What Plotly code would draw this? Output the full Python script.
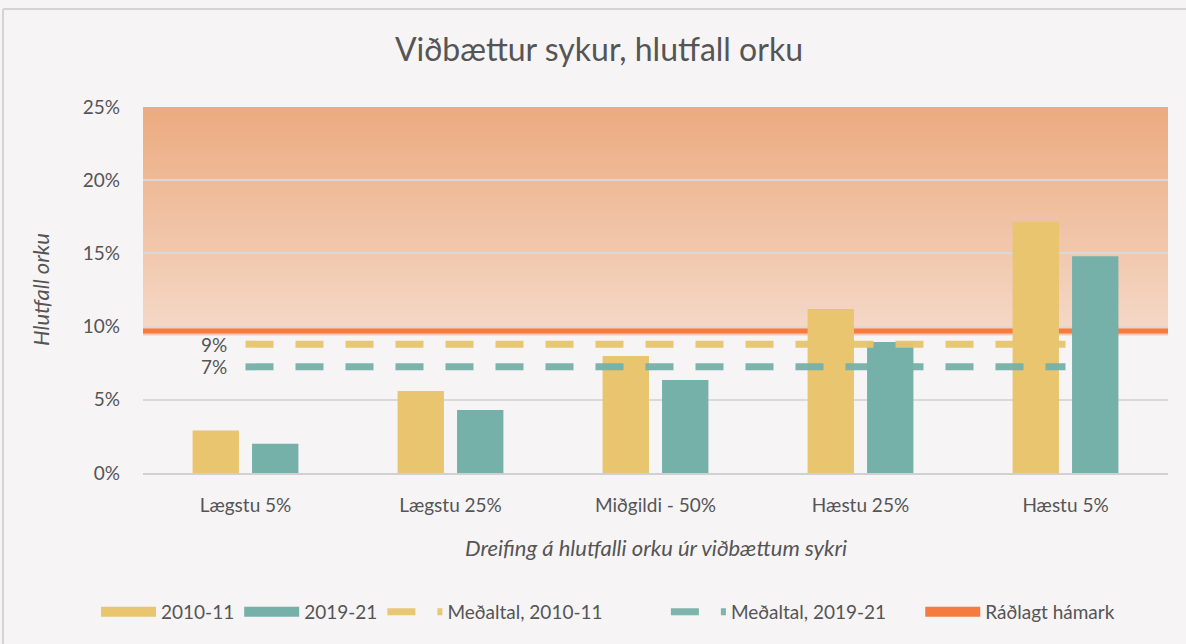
import plotly.graph_objects as go

categories = ["Lægstu 5%", "Lægstu 25%", "Miðgildi - 50%", "Hæstu 25%", "Hæstu 5%"]
values_2010 = [2.9, 5.6, 8.0, 11.2, 17.15]
values_2019 = [2.0, 4.3, 6.35, 8.95, 14.8]
mean_2010 = 8.8
mean_2019 = 7.25
mean_labels = ["9%", "7%"]
recommended_max = 9.7
band_low, band_high = 10.0, 25.0
y_ticks = [0, 5, 10, 15, 20, 25]
y_ticklabels = ["0%", "5%", "10%", "15%", "20%", "25%"]

YELLOW = "#E8C56E"
TEAL = "#76B1A9"
ORANGE = "#F57B40"
TXT = "#555555"
BG = "#F6F4F5"
FONT = "Lato"
NB = "\u00a0"

fig = go.Figure()

# legend stand-ins for bars (wide rectangles)
fig.add_trace(go.Scatter(x=[None], y=[None], mode="lines", name="2010-11",
                         line=dict(color=YELLOW, width=15)))
fig.add_trace(go.Scatter(x=[None], y=[None], mode="lines", name="2019-21",
                         line=dict(color=TEAL, width=15)))

fig.add_trace(go.Bar(x=categories, y=values_2010, name="2010-11", showlegend=False,
                     marker=dict(color=YELLOW, line=dict(width=0))))
fig.add_trace(go.Bar(x=categories, y=values_2019, name="2019-21", showlegend=False,
                     marker=dict(color=TEAL, line=dict(width=0))))

fig.add_trace(go.Scatter(
    x=categories, y=[mean_2010] * len(categories), name="Meðaltal, 2010-11" + NB * 12,
    mode="lines", line=dict(color=YELLOW, width=7, dash="28px,22px"), opacity=0.95))
fig.add_trace(go.Scatter(
    x=categories, y=[mean_2019] * len(categories), name="Meðaltal, 2019-21" + NB * 6,
    mode="lines", line=dict(color=TEAL, width=7, dash="28px,22px"), opacity=0.95))

fig.add_trace(go.Scatter(x=[None], y=[None], mode="lines", name="Ráðlagt hámark",
                         line=dict(color=ORANGE, width=10)))

# gradient band: overlapping strips, each from its start to the top
top = (236, 171, 128)
bot = (244, 215, 198)
n = 110
shapes = []
step = (band_high - band_low) / n
for i in range(n):
    t = i / (n - 1)
    c = tuple(round(bot[k] + (top[k] - bot[k]) * t) for k in range(3))
    shapes.append(dict(type="rect", xref="paper", yref="y", x0=0, x1=1,
                       y0=band_low + i * step, y1=band_high,
                       fillcolor="rgb(%d,%d,%d)" % c, line=dict(width=0), layer="below"))
# recommended max line (with soft edges)
shapes.append(dict(type="line", xref="paper", yref="y", x0=0, x1=1,
                   y0=recommended_max, y1=recommended_max,
                   line=dict(color="rgba(245,123,64,0.35)", width=9), layer="between"))
shapes.append(dict(type="line", xref="paper", yref="y", x0=0, x1=1,
                   y0=recommended_max, y1=recommended_max,
                   line=dict(color=ORANGE, width=5), layer="between"))
# chart border
shapes.append(dict(type="line", xref="paper", yref="paper", x0=-0.1366, x1=1.1,
                   y0=1.2678, y1=1.2678, line=dict(color="#D4D4D4", width=2)))
shapes.append(dict(type="line", xref="paper", yref="paper", x0=-0.1366, x1=-0.1366,
                   y0=1.2678, y1=-0.5, line=dict(color="#D4D4D4", width=2)))

annotations = [
    dict(text="<i>Hlutfall orku</i>", xref="paper", yref="paper",
         x=(40 - 143) / 1025, y=0.5, textangle=-90, showarrow=False,
         xanchor="center", yanchor="middle", font=dict(size=22, color=TXT)),
    dict(text="<i>Dreifing á hlutfalli orku úr viðbættum sykri</i>", xref="paper",
         yref="paper", x=0.5, y=(473 - 547) / 366, showarrow=False,
         xanchor="center", yanchor="middle", font=dict(size=22, color=TXT)),
]
for lbl, val in zip(mean_labels, [mean_2010, mean_2019]):
    annotations.append(dict(text=lbl, x=categories[0], y=val, xref="x", yref="y",
                            showarrow=False, xanchor="right", yanchor="middle",
                            xshift=-17, font=dict(size=19, color=TXT)))

fig.update_layout(
    width=1186, height=644,
    margin=dict(l=143, r=18, t=107, b=171, autoexpand=False),
    paper_bgcolor=BG, plot_bgcolor=BG,
    font=dict(family=FONT, color=TXT, size=19),
    title=dict(text="Viðbættur sykur, hlutfall orku", x=0.505, xanchor="center",
               y=0.922, yanchor="middle", font=dict(size=32, color=TXT, family=FONT)),
    barmode="group", bargap=0.42, bargroupgap=0.22,
    shapes=shapes,
    annotations=annotations,
    showlegend=True,
    legend=dict(orientation="h", xref="container", yref="container",
                x=608 / 1186, xanchor="center", y=1 - 612 / 644, yanchor="middle",
                font=dict(size=19, color=TXT), bgcolor="rgba(0,0,0,0)",
                traceorder="normal", tracegroupgap=0, itemwidth=55),
    xaxis=dict(type="category", categoryorder="array", categoryarray=categories,
               showgrid=False, showline=True, linecolor="#D0D0D0", linewidth=2,
               tickfont=dict(size=19, color=TXT), ticklabelstandoff=14,
               range=[-0.5, 4.5], fixedrange=True),
    yaxis=dict(range=[0, 25], tickvals=y_ticks, ticktext=y_ticklabels,
               showgrid=True, gridcolor="#D9D9D9", gridwidth=2, zeroline=False,
               tickfont=dict(size=19, color=TXT), ticklabelstandoff=22,
               fixedrange=True),
)

fig.write_html("out.html", config={"displayModeBar": False},
               post_script="document.body.style.margin='0';"
                           "document.body.style.background='#F6F4F5';")
